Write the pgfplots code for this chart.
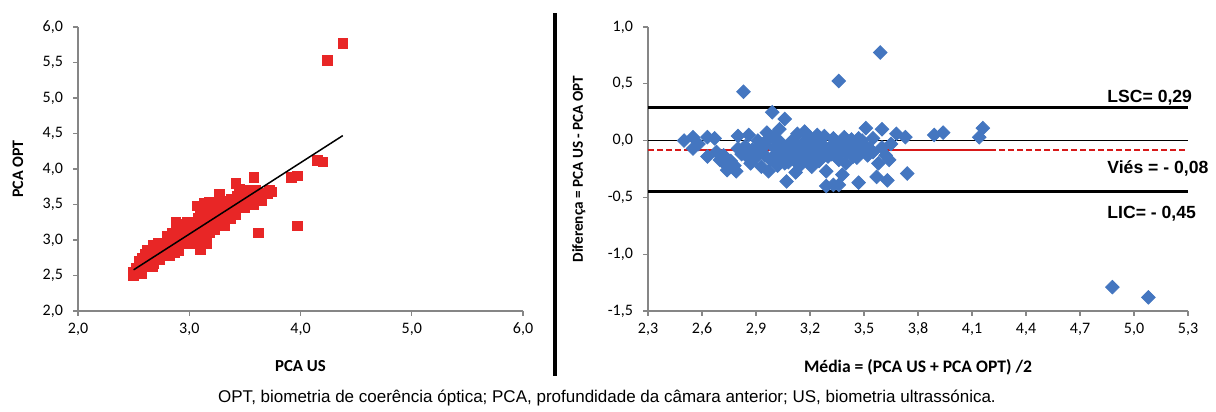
\documentclass[border=0pt]{standalone}
\usepackage{pgfplots}
\pgfplotsset{compat=1.18}
\usepackage{fontspec}
\setmainfont{Carlito}
\newfontfamily\arialf{Liberation Sans}
\definecolor{axgray}{RGB}{134,134,134}
\definecolor{ptred}{RGB}{232,38,38}
\definecolor{ptblue}{RGB}{68,118,192}
\definecolor{linered}{RGB}{215,25,25}
\pgfplotstableread{
x y
2.50 2.50
2.50 2.55
2.52 2.60
2.55 2.55
2.57 2.53
2.55 2.70
2.58 2.75
2.60 2.80
2.62 2.85
2.60 2.65
2.63 2.72
2.65 2.78
2.67 2.62
2.68 2.67
2.68 2.92
2.70 2.88
2.70 2.80
2.72 2.95
2.73 2.72
2.75 2.85
2.77 2.92
2.78 2.80
2.80 2.95
2.80 3.05
2.82 2.78
2.83 2.88
2.85 3.00
2.85 3.10
2.87 2.82
2.88 2.93
2.88 3.25
2.90 3.05
2.90 2.85
2.92 3.15
2.93 2.98
2.95 3.08
2.95 3.22
2.97 2.95
2.98 3.25
3.00 3.10
3.00 3.00
3.02 3.18
3.03 2.95
3.05 3.25
3.05 3.05
3.06 3.12
3.07 3.48
3.08 3.30
3.08 2.98
3.10 3.20
3.10 3.40
3.10 2.87
3.12 3.05
3.12 3.35
3.13 3.52
3.15 3.15
3.15 3.45
3.16 2.95
3.17 3.28
3.18 3.53
3.18 3.10
3.20 3.38
3.20 3.22
3.22 3.30
3.22 3.48
3.23 3.15
3.25 3.40
3.25 3.25
3.27 3.65
3.27 3.50
3.28 3.30
3.30 3.35
3.30 3.45
3.32 3.20
3.33 3.55
3.35 3.38
3.35 3.48
3.37 3.30
3.38 3.58
3.40 3.42
3.40 3.50
3.42 3.80
3.42 3.36
3.43 3.62
3.45 3.72
3.45 3.47
3.47 3.55
3.48 3.65
3.50 3.45
3.50 3.60
3.52 3.70
3.53 3.52
3.55 3.62
3.57 3.68
3.58 3.88
3.58 3.50
3.60 3.58
3.60 3.70
3.62 3.10
3.63 3.62
3.65 3.56
3.67 3.66
3.70 3.65
3.72 3.70
3.74 3.68
3.92 3.88
3.97 3.90
3.97 3.20
4.15 4.12
4.20 4.10
4.24 5.53
4.38 5.77
}\leftdata
\pgfplotstableread{
x y
2.50 0.00
2.55 0.03
2.55 -0.07
2.58 -0.03
2.63 0.03
2.63 -0.14
2.67 0.02
2.68 -0.10
2.70 -0.17
2.72 -0.13
2.73 -0.21
2.74 -0.26
2.76 -0.18
2.78 -0.22
2.79 -0.27
2.80 0.04
2.82 -0.12
2.83 0.43
2.84 -0.05
2.86 0.05
2.87 -0.20
2.88 -0.08
2.90 -0.15
2.91 0.00
2.93 -0.23
2.93 -0.10
2.95 -0.04
2.96 0.07
2.97 -0.27
2.98 -0.17
2.99 0.25
3.00 -0.06
3.00 0.04
3.01 -0.12
3.02 -0.22
3.03 0.10
3.04 -0.02
3.05 -0.15
3.06 0.19
3.07 -0.36
3.07 -0.08
3.08 -0.19
3.10 0.00
3.10 -0.11
3.12 -0.28
3.12 -0.05
3.13 0.06
3.14 -0.14
3.15 -0.21
3.16 -0.02
3.17 0.08
3.18 -0.09
3.19 -0.16
3.20 0.03
3.21 -0.23
3.22 -0.06
3.23 -0.12
3.24 0.05
3.25 -0.18
3.26 -0.03
3.27 -0.09
3.28 0.04
3.29 -0.27
3.29 -0.40
3.30 -0.14
3.31 -0.06
3.33 -0.39
3.33 0.02
3.34 -0.10
3.36 0.525
3.36 -0.39
3.36 -0.17
3.37 -0.04
3.38 -0.30
3.39 0.03
3.40 -0.20
3.40 -0.11
3.42 -0.07
3.43 0.01
3.44 -0.14
3.45 -0.05
3.47 -0.37
3.47 0.02
3.48 -0.10
3.50 -0.04
3.51 0.11
3.52 -0.13
3.53 -0.07
3.55 0.02
3.57 -0.32
3.58 -0.20
3.59 0.775
3.60 0.10
3.60 -0.06
3.62 -0.13
3.63 -0.35
3.64 -0.17
3.65 -0.03
3.68 0.06
3.73 0.03
3.74 -0.29
3.89 0.05
3.94 0.07
4.14 0.03
4.16 0.11
4.88 -1.29
5.08 -1.38
2.92 -0.05
2.95 -0.13
2.97 0.02
3.00 -0.14
3.02 -0.01
3.04 -0.09
3.06 -0.20
3.09 -0.03
3.11 -0.17
3.13 -0.09
3.15 -0.05
3.17 -0.13
3.19 0.00
3.21 -0.08
3.23 -0.18
3.25 -0.01
3.27 -0.14
3.29 -0.07
3.32 -0.12
3.35 -0.06
3.38 -0.09
3.41 -0.03
3.44 -0.09
3.46 -0.15
3.49 0.00
3.55 -0.10
2.85 -0.14
2.80 -0.07
}\rightdata
\pgfplotsset{
  excel/.style={
    scale only axis, anchor=south west, clip=false, clip marker paths=true,
    axis lines=left, axis line style={-, draw=axgray, line width=0.7pt},
    tick align=outside, major tick length=2.5pt,
    tick style={draw=axgray, line width=0.6pt},
    /pgf/number format/.cd, use comma, fixed, fixed zerofill, precision=1, assume math mode=true, /pgfplots/.cd,
    tick label style={font=\fontsize{8pt}{9pt}\selectfont},
    yticklabel style={xshift=-1.5pt},
    label style={font=\fontsize{8.4pt}{9pt}\selectfont\bfseries},
  }
}
\begin{document}
\begin{tikzpicture}
\path[use as bounding box] (0,0) rectangle (608pt,206pt);
\begin{axis}[excel, at={(39pt,50.5pt)}, width=222.5pt, height=142pt,
  xmin=2, xmax=6, ymin=2, ymax=6, xtick={2,3,4,5,6}, ytick={2,2.5,3,3.5,4,4.5,5,5.5,6},
  xlabel={PCA US}, ylabel={PCA OPT},
  xlabel style={at={(axis description cs:0.5,-0.194)}, anchor=center},
  ylabel style={at={(axis description cs:-0.135,0.5)}, anchor=center, font=\fontsize{8pt}{9pt}\selectfont\bfseries}]
\addplot[only marks, mark=square*, mark size=2.4pt, color=ptred] table {\leftdata};
\addplot[black, line width=0.75pt] coordinates {(2.5,2.58) (4.38,4.47)};
\end{axis}
\draw[black, line width=1.6pt] (277.5pt,18pt) -- (277.5pt,199.5pt);
\begin{axis}[excel, at={(324pt,50.5pt)}, width=270pt, height=142pt,
  xmin=2.3, xmax=5.3, ymin=-1.5, ymax=1,
  xtick={2.3,2.6,2.9,3.2,3.5,3.8,4.1,4.4,4.7,5.0,5.3}, ytick={-1.5,-1,-0.5,0,0.5,1},
  xlabel={Média = (PCA US + PCA OPT) /2}, ylabel={Diferença = PCA US - PCA OPT},
  xlabel style={at={(axis description cs:0.5,-0.2)}, anchor=center, font=\fontsize{8.8pt}{9pt}\selectfont\bfseries},
  ylabel style={at={(axis description cs:-0.128,0.5)}, anchor=center, font=\fontsize{7.6pt}{9pt}\selectfont\bfseries}]
\addplot[black, line width=1.5pt] coordinates {(2.3,0.29) (5.3,0.29)};
\addplot[black, line width=1.5pt] coordinates {(2.3,-0.45) (5.3,-0.45)};
\addplot[black, line width=0.8pt] coordinates {(2.3,0) (5.3,0)};
\addplot[draw=linered, dash pattern=on 3pt off 1.5pt, line width=0.9pt] coordinates {(2.3,-0.08) (5.3,-0.08)};
\addplot[draw=linered, line width=0.9pt] coordinates {(2.53,-0.08) (4.2,-0.08)};
\addplot[only marks, mark=square*, mark options={rotate=45}, mark size=2.4pt, color=ptblue] table {\rightdata};
\node[anchor=base west, inner sep=0pt, font=\arialf\fontsize{8.8pt}{10pt}\selectfont\bfseries] at (axis cs:4.85,0.331) {LSC= 0,29};
\node[anchor=base west, inner sep=0pt, font=\arialf\fontsize{8.8pt}{10pt}\selectfont\bfseries] at (axis cs:4.85,-0.294) {Viés = - 0,08};
\node[anchor=base west, inner sep=0pt, font=\arialf\fontsize{8.8pt}{10pt}\selectfont\bfseries] at (axis cs:4.85,-0.69) {LIC= - 0,45};
\end{axis}
\node[anchor=base, font=\arialf\fontsize{8.5pt}{9pt}\selectfont] at (303.5pt,4.5pt) {OPT, biometria de coerência óptica; PCA, profundidade da câmara anterior; US, biometria ultrassónica.};
\end{tikzpicture}
\end{document}
